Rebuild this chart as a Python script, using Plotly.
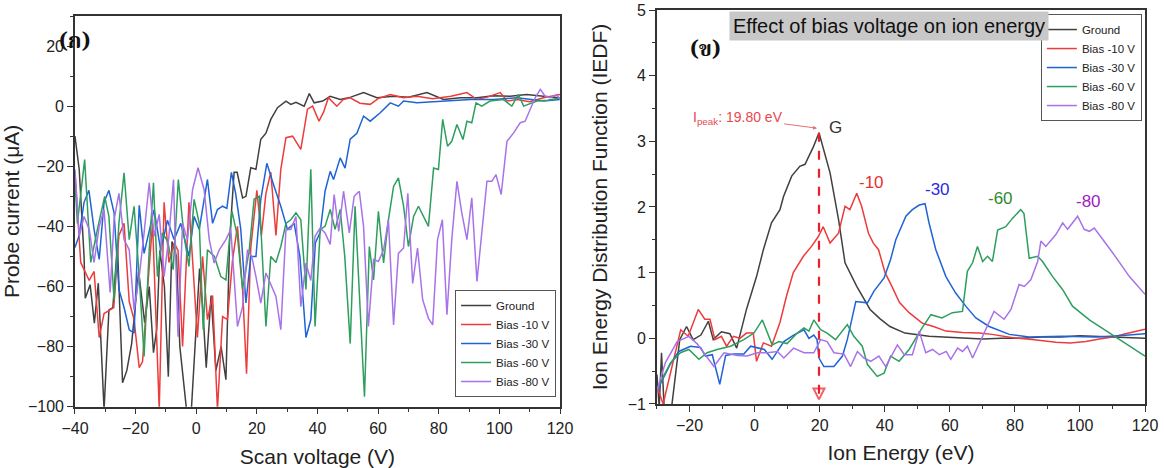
import plotly.graph_objects as go

# ---------------- data: left panel (probe current vs scan voltage) ----------------
GND_V = [-40, -38.6, -37, -36.6, -35, -33.6, -32.3, -30.4, -28.8, -27.5, -26, -24.3, -22.9, -21.3, -19, -17,
         -15.5, -14.1, -13, -12, -10.5, -9.2, -8, -6.5, -5.4, -3.2, -1.6, 1.1, 2.2, 3.3, 4.9, 6.5, 8.2, 9.8,
         11, 12.5, 13.5, 15.3, 16.4, 18, 19.7, 21.3, 23, 24.6, 26.8, 29.6, 31.2, 32.9, 35.6, 37.3, 38.9, 41.7,
         44.2, 47.5, 51, 55.2, 59.6, 65.1, 70, 76.1, 81.6, 87.1, 92.6, 98, 103.6, 109, 114.6, 120]
GND_I = [-10, -21, -50, -63.9, -59.4, -72.2, -58.9, -101, -67.8, -67, -46, -92, -88, -79, -55, -72,
         -60, -82, -74, -48, -60, -90, -45, -50, -80, -101, -101, -54, -68, -87, -63, -88, -80, -91,
         -45, -22, -22, -30.5, -30, -20.5, -21, -11, -9, -4.4, -0.5, 1.7, 0.6, 1.3, 0, 4.2, 1.1, 1.7,
         3.3, 2.2, 3, 4.5, 2.8, 3.3, 3, 4.5, 2.2, 2.8, 2.8, 3.5, 3.3, 3.9, 3.3, 2.8]

B10_V = [-40, -39, -38.1, -35.3, -33.7, -32, -30.4, -28.8, -27.2, -25.5, -23.8, -22.1, -20.5, -18.8, -17.7, -16,
         -14.4, -12.2, -10.6, -9, -7.3, -6, -4.5, -2.4, 0.4, 2.1, 3.7, 5.4, 7, 8.7, 10.3, 12, 13.6, 15.3, 16.6,
         18, 20, 21.5, 23, 24.6, 26.3, 27.9, 29.6, 31.8, 34.5, 36.7, 38.4, 40.5, 42, 43.6, 46.4, 48.5, 50.8, 54,
         57.4, 60, 64, 68.4, 72.8, 78, 84, 89.3, 92.6, 96, 100.3, 102.5, 105.8, 110, 114.6, 120]
B10_I = [-22, -40, -52, -58, -55, -77, -69, -68, -67, -43, -39, -65, -71, -87, -85, -60,
         -39, -101, -32, -52, -45.5, -48, -80, -32, -77, -50, -71, -63, -101, -70, -71, -51, -40, -61, -89,
         -47, -28, -43, -29, -22, -43, -21, -10.5, -10, -14.4, -1, 0, -5, -2, 2.8, 0, 2.2, 2.8, 1,
         0.6, 2.5, 3.9, 2.8, 3.3, 2.5, 3.3, 4.5, 2.2, 3, 4.5, 1.7, 2.2, 1.5, 2.8, 3.9]

B30_V = [-40, -38.6, -37, -35.4, -33.7, -32, -30.4, -28.8, -27.1, -25.5, -23.8, -22.1, -20.5, -18.8, -17.2, -15.5,
         -13.9, -11.7, -9.5, -7.3, -5.1, -2.4, -0.7, 1, 3.7, 5.4, 7, 8.7, 10.1, 11.6, 13, 14.7, 16.4, 18, 19.7,
         21.3, 23.3, 25.7, 27.9, 30.1, 32.3, 34.2, 36.2, 37.8, 39.3, 40.9, 42.5, 44.2, 45.3, 47.5, 49.1, 50.8,
         53, 55.2, 57.4, 60.7, 64, 66.7, 68.4, 72.8, 81.6, 90.4, 98.1, 105.8, 114.6, 120]
B30_I = [-47, -43, -32, -28, -41, -51, -32, -28, -35.5, -61, -67, -74.4, -75.5, -33, -49, -41,
         -34.4, -48, -38, -44.4, -39, -50, -36.7, -41, -24.4, -39, -34.4, -33.3, -34, -22, -29, -41, -65.5, -50, -50,
         -31, -19, -26.7, -33.3, -41, -39, -50, -77, -71, -45.5, -42, -28.3, -21.7, -24.4, -17.2, -20.6, -11,
         -9, -3.3, -5, -2.2, 1.1, 0, 1.7, 1.1, 1.7, 2.2, 2.2, 2.8, 1.7, 2.2]

B60_V = [-40, -39.2, -36.8, -34.8, -32.6, -30.2, -28.8, -27.1, -25.5, -23.8, -22.1, -20.5, -18.8, -17.2, -15.5,
         -14.1, -12.8, -11.2, -9.4, -7.6, -5.9, -4, -2.4, -0.7, 1, 2.3, 3.7, 6, 8.1, 9.8, 11.8, 13.6, 15.3, 17.5,
         19.1, 20.8, 23, 24.6, 26.3, 27.9, 29.6, 31.2, 32.9, 34.5, 36.2, 37.8, 39.2, 40.9, 42.5, 44.2, 45.8, 47.5,
         49, 50.8, 52.4, 54.1, 55.5, 57.1, 58.5, 60.1, 61.8, 63.4, 65.1, 66.7, 68.4, 70, 71.7, 73.3, 75, 76.6,
         78.3, 79.9, 81.3, 82.9, 84.3, 86, 88, 89.3, 90.9, 92.3, 94.2, 96.9, 101.4, 104.1, 106.3, 108, 112.4, 116, 120]
B60_I = [-25, -39, -17.8, -52, -41, -30, -36.7, -64.4, -39, -22.2, -44.4, -33.3, -56.7, -83.3, -47.8,
         -25.5, -56.7, -42.2, -45, -54.4, -24.4, -43.3, -53.3, -31, -39, -74.4, -47.8, -50, -56.7, -57.8, -35, -43.3, -61, -47.8,
         -31, -30, -73.3, -50, -52, -46.7, -39, -37.8, -35.5, -37.8, -61, -21, -73.3, -41, -40, -34.4, -41, -34.4,
         -50, -79, -33.3, -69, -96.7, -46.7, -57.8, -35, -52.2, -37.8, -26.7, -23.9, -33.3, -46.7, -36.7, -33.3, -36.7, -40,
         -20.6, -21.1, -4.4, -13.3, -11.7, -6.1, -11.1, -5, -5.5, 1.1, 0, 1.7, 2.2, 0, 3.9, 0, 1.7, 2, 2.8]

B80_V = [-40, -38.6, -37, -35.3, -33.7, -32, -30.4, -28.4, -27.1, -25.5, -23.8, -22.1, -20.5, -18.8, -17.2, -15.5,
         -13.9, -12.2, -10.6, -9, -7.5, -6, -4.5, -2.9, -1.2, 0.6, 2.6, 4.3, 5.9, 7.6, 9.8, 11.4, 13.6, 15.3, 16.9,
         18.3, 19.7, 21.3, 23, 24.6, 26.3, 27.9, 29.6, 31.2, 32.9, 34.5, 36.2, 37.8, 39.2, 40.9, 42.5, 44.2, 45.5,
         47, 48.6, 50.5, 52.1, 53.8, 55.2, 56.8, 58.5, 60.1, 61.8, 63.4, 65.1, 66.7, 68.4, 69.8, 71.4, 73, 74.7,
         76.6, 78, 79.6, 81.2, 82.7, 84.3, 86, 87.6, 89.3, 90.9, 92.6, 94.3, 95.9, 97.5, 98.9, 100.6, 102.5, 104.7,
         106.9, 108.5, 110.2, 111.8, 113.5, 115.1, 116.8, 119, 120]
B80_I = [-21, -43.3, -36.7, -41, -52, -40, -34.4, -62, -37.8, -29, -44.4, -47.8, -67.8, -56.7, -42.2, -25.5,
         -43.3, -36, -56.7, -43.3, -24.4, -76.7, -39, -44.4, -27.8, -20.5, -27.8, -44.4, -52.2, -47.8, -44.4, -41, -73.3, -66.7, -47.8,
         -50, -56.7, -65.5, -55.5, -59, -63.3, -74.4, -41, -41, -36.7, -66.7, -52.2, -58, -43.3, -40.5, -42.2, -46, -29.4,
         -41.7, -28.3, -42.2, -30, -28.3, -40, -73.3, -51, -51.7, -47.8, -37.8, -72.8, -49, -47.2, -29, -59, -47.2, -64.4,
         -70.6, -72.8, -44.4, -37.8, -69.4, -44.4, -25, -35.5, -44.4, -30.5, -58.3, -40, -25, -25, -22.8, -29.4, -11.7, -8.9,
         -5.5, -5, -1.1, 2.8, 5.6, 3.3, 2.8, 3.9, 2.2]

# ---------------- data: right panel (IEDF vs ion energy) ----------------
G_E = [-30, -29.3, -28.6, -27.8, -25.5, -23, -20.9, -18.9, -16.5, -14.2, -12.7, -10.2, -7.6, -5.5, -2.5, 0.6, 2.7,
       5.2, 7.8, 8.9, 11.4, 13.9, 15.5, 18.1, 19.8, 21.6, 23.2, 25.8, 27.8, 31.4, 35.5, 38.5, 41.6, 46.2, 50, 53.6,
       58, 64, 70, 76, 82, 88, 94, 100, 106, 112, 120]
G_F = [-0.55, -1.05, -0.22, -1.05, -1.05, -0.02, 0.18, -0.02, 0.05, 0.26, -0.02, 0.1, 0.07, -0.15, 0.44, 0.94, 1.35,
       1.76, 1.96, 2.16, 2.47, 2.62, 2.65, 2.92, 3.13, 2.82, 2.52, 1.81, 1.15, 0.79, 0.44, 0.3, 0.18, 0.08, 0.06, 0.03,
       0.02, 0.0, -0.01, 0.0, 0.0, 0.02, 0.02, 0.04, 0.03, 0.02, 0.0]

M10_E = [-30, -28.1, -22.7, -20.4, -17.3, -15.3, -13.7, -12.2, -10.2, -8.6, -6.5, -4.5, -2.5, -0.4, 0.6, 2.7, 5.2,
         7.8, 9.8, 11.9, 15.0, 17.5, 19.6, 21.1, 23.2, 25.8, 27.8, 29.3, 31.4, 32.9, 35.0, 36.5, 38.1, 40.1, 42.2,
         44.5, 47.5, 51.6, 55, 58.8, 64, 69, 73, 79.3, 86, 92.6, 97, 101.8, 106, 110, 115, 120]
M10_F = [-0.73, -1.0, 0.13, 0.03, 0.44, 0.29, 0.29, -0.02, 0.03, -0.12, 0.03, 0.0, 0.08, 0.08, -0.35, -0.07, -0.12,
         0.24, 0.64, 1.0, 1.25, 1.40, 1.55, 1.70, 1.45, 1.6, 2.01, 1.96, 2.21, 2.01, 1.60, 1.45, 1.35, 1.0, 0.79,
         0.55, 0.39, 0.23, 0.18, 0.11, 0.09, 0.08, 0.06, 0.01, -0.02, -0.06, -0.07, -0.05, -0.01, 0.02, 0.08, 0.14]

M30_E = [-30, -26, -23.3, -19.7, -16.6, -15.1, -13, -10.7, -8.9, -6.4, -3.3, -1.2, 3, 5.4, 9, 12, 15.2, 16.7, 18.2,
         19.2, 19.8, 21.3, 24.4, 27, 28.5, 31.1, 34.7, 36.7, 39.8, 41.8, 43.4, 46.5, 48.5, 50.6, 52.4, 53.6, 55.7,
         58.8, 61.8, 64.9, 68, 72.1, 78.3, 84.4, 94.6, 104.9, 112, 120]
M30_F = [-0.8, -0.4, -0.2, -0.12, -0.14, -0.27, -0.25, -0.7, -0.26, -0.24, -0.24, -0.12, -0.17, -0.32, -0.05, 0.05,
         0.13, 0.0, 0.05, -0.02, -0.3, -0.43, -0.43, -0.27, -0.02, 0.56, 0.54, 0.72, 0.92, 1.2, 1.5, 1.86, 1.96, 2.03,
         2.05, 1.76, 1.35, 0.94, 0.69, 0.49, 0.31, 0.18, 0.06, 0.02, 0.03, 0.02, 0.04, 0.07]

M60_E = [-30, -25.8, -22.8, -20.2, -17.1, -14.6, -11.5, -7.4, -3.3, -0.2, 2.4, 3.9, 5.4, 7.5, 10, 13.1, 15.2, 16.7,
         18.2, 20.3, 22.3, 24.9, 27.5, 28.5, 30.5, 33.1, 34.7, 37.7, 39.8, 41.8, 44.4, 47.5, 51.1, 54.2, 57.6, 60.8,
         63.9, 65.4, 67, 68.5, 70.1, 71.6, 73.1, 74.7, 77.2, 79.3, 81.8, 82.8, 84.4, 87, 88.5, 91.6, 94.7, 97.7,
         102.9, 109, 115.2, 120]
M60_F = [-0.77, -0.37, -0.22, -0.17, -0.32, -0.22, -0.17, -0.12, -0.02, 0.08, 0.28, 0.08, -0.1, -0.05, -0.08, 0.08,
         0.16, 0.11, 0.28, 0.13, 0.08, -0.02, 0.16, 0.21, 0.03, -0.12, -0.4, -0.58, -0.53, -0.27, -0.35, -0.17, 0.13,
         0.36, 0.31, 0.39, 0.41, 1.02, 1.15, 1.40, 1.17, 1.25, 1.17, 1.65, 1.70, 1.83, 1.96, 1.9, 1.22, 1.25, 1.17,
         0.94, 0.74, 0.49, 0.28, 0.08, -0.12, -0.27]

M80_E = [-30, -27.4, -23.8, -20.2, -17.7, -15.1, -12.5, -9.4, -5.3, -2.3, 0.8, 3.9, 7, 9, 12, 15.2, 18.2, 20.3,
         22.3, 24.4, 27.5, 29.5, 31.6, 33.6, 35.7, 38.2, 40.3, 43.9, 46, 48.5, 50.6, 52.6, 54.7, 56.8, 58.9, 60.3,
         62.4, 63.9, 65.4, 67, 70.6, 73.6, 76.7, 78.8, 81.3, 82.9, 84.9, 87, 88, 89.5, 92.6, 94.7, 96.2, 99.3,
         101.3, 102.9, 104.4, 110.1, 115.2, 120]
M80_F = [-0.8, -0.37, -0.05, 0.03, -0.08, -0.25, -0.43, -0.22, -0.26, -0.27, -0.22, -0.22, -0.2, -0.3, -0.15, -0.22,
         -0.22, -0.02, -0.05, -0.22, -0.24, -0.43, -0.2, -0.3, -0.35, -0.27, -0.43, -0.1, -0.25, -0.25, 0.11, -0.22,
         -0.17, -0.25, -0.2, -0.32, -0.15, -0.2, -0.12, -0.3, 0.08, 0.41, 0.29, 0.44, 0.82, 0.79, 0.89, 1.17, 1.48,
         1.40, 1.58, 1.76, 1.66, 1.86, 1.66, 1.63, 1.68, 1.30, 0.94, 0.67]

NAMES = ["Ground", "Bias -10 V", "Bias -30 V", "Bias -60 V", "Bias -80 V"]
COLORS = ["#404040", "#ee3b3b", "#1e64d6", "#2e9e5e", "#a873e8"]
PEAK_E = 19.8
PEAK_F = 3.13

left = [(GND_V, GND_I), (B10_V, B10_I), (B30_V, B30_I), (B60_V, B60_I), (B80_V, B80_I)]
right = [(G_E, G_F), (M10_E, M10_F), (M30_E, M30_F), (M60_E, M60_F), (M80_E, M80_F)]

fig = go.Figure()

for (xs, ys), name, col in zip(left, NAMES, COLORS):
    fig.add_trace(go.Scatter(x=xs, y=ys, mode="lines", name=name, line=dict(color=col, width=1.5),
                             xaxis="x", yaxis="y", legend="legend"))
for (xs, ys), name, col in zip(right, NAMES, COLORS):
    fig.add_trace(go.Scatter(x=xs, y=ys, mode="lines", name=name, line=dict(color=col, width=1.5),
                             xaxis="x2", yaxis="y2", legend="legend2"))

# dashed peak marker with an arrow tip at the bottom
fig.add_trace(go.Scatter(x=[PEAK_E, PEAK_E], y=[PEAK_F, -0.93], mode="lines+markers", showlegend=False,
                         line=dict(color="#e8202a", width=2.2, dash="dash"),
                         marker=dict(symbol=["circle", "arrow-down-open"], size=[0, 11],
                                     color="#e8202a", line=dict(width=2, color="#e8202a")),
                         xaxis="x2", yaxis="y2"))

FONT = "Liberation Sans, Arial, sans-serif"
axis_common = dict(showline=True, mirror=True, linecolor="#333333", linewidth=1.6, ticks="outside",
                   ticklen=6, tickwidth=1.3, tickcolor="#333333", showgrid=False, zeroline=False,
                   automargin=False,
                   tickfont=dict(family=FONT, size=16, color="#222"),
                   minor=dict(ticks="outside", ticklen=3.5, tickwidth=1.2, tickcolor="#333333"))

fig.update_layout(
    width=1164, height=468, margin=dict(l=0, r=0, t=0, b=0),
    paper_bgcolor="white", plot_bgcolor="white",
    font=dict(family=FONT, color="#222"),
    xaxis=dict(domain=[0.0644, 0.4811], range=[-40, 120], dtick=20, anchor="y",
               title=dict(text="Scan voltage (V)", font=dict(size=21), standoff=14), **axis_common),
    yaxis=dict(domain=[0.131, 0.9658], range=[-100, 30], dtick=20, anchor="x",
               title=dict(text="Probe current (μA)", font=dict(size=21), standoff=4), **axis_common),
    xaxis2=dict(domain=[0.5644, 0.9837], range=[-30, 120], dtick=20, tick0=0, anchor="y2",
                title=dict(text="Ion Energy (eV)", font=dict(size=21), standoff=12), **axis_common),
    yaxis2=dict(domain=[0.1368, 0.9786], range=[-1, 5], dtick=1, anchor="x2",
                title=dict(text="Ion Energy Distribution Function (IEDF)", font=dict(size=21), standoff=14),
                **axis_common),
    legend=dict(x=0.4777, y=0.1517, xanchor="right", yanchor="bottom", bgcolor="white",
                bordercolor="#555", borderwidth=1, font=dict(size=11.5), itemwidth=30, tracegroupgap=0),
    legend2=dict(x=0.981, y=0.97, xanchor="right", yanchor="top", bgcolor="white",
                 bordercolor="#555", borderwidth=1, font=dict(size=11.5), itemwidth=30, tracegroupgap=0),
)
fig.layout.xaxis.minor.dtick = 10
fig.layout.yaxis.minor.dtick = 10
fig.layout.xaxis2.minor.dtick = 10
fig.layout.yaxis2.minor.dtick = 0.5

THAI = "Noto Serif Thai, Noto Sans Thai, Loma, Garuda, Norasi, DejaVu Serif, serif"
ann = [
    dict(text="<b>(ก)</b>", x=0.0644, y=0.91, xref="paper", yref="paper", showarrow=False,
         xanchor="center", yanchor="middle", font=dict(family=THAI, size=22, color="#111")),
    dict(text="<b>(ข)</b>", x=0.6057, y=0.893, xref="paper", yref="paper", showarrow=False,
         xanchor="center", yanchor="middle", font=dict(family=THAI, size=22, color="#111")),
    dict(text="Effect of bias voltage on ion energy", x=0.7637, y=0.944, xref="paper", yref="paper",
         xanchor="center", yanchor="middle", showarrow=False, bgcolor="#c8c8c8", borderpad=3,
         font=dict(size=20, color="#111")),
    dict(text="G", x=24.9, y=3.21, xref="x2", yref="y2", showarrow=False, font=dict(size=17, color="#333")),
    dict(text="-10", x=36, y=2.37, xref="x2", yref="y2", showarrow=False, font=dict(size=17, color="#e8302f")),
    dict(text="-30", x=56.3, y=2.26, xref="x2", yref="y2", showarrow=False, font=dict(size=17, color="#2a2ae0")),
    dict(text="-60", x=75.7, y=2.13, xref="x2", yref="y2", showarrow=False, font=dict(size=17, color="#2e8b2e")),
    dict(text="-80", x=102.5, y=2.08, xref="x2", yref="y2", showarrow=False, font=dict(size=17, color="#a020c0")),
    dict(text="I<sub>peak</sub>: 19.80 eV", x=19.2, y=3.2, ax=-5.2, ay=3.36,
         xref="x2", yref="y2", axref="x2", ayref="y2", showarrow=True, arrowhead=2, arrowsize=0.8,
         arrowwidth=1, arrowcolor="#e87070", font=dict(size=14, color="#e8474e")),
]
fig.update_layout(annotations=ann)

# the page body has a default 8px margin; drop it so the figure sits at the window's corner
fig.write_html("out.html", config={"displayModeBar": False},
               post_script="document.body.style.margin='0px';")
